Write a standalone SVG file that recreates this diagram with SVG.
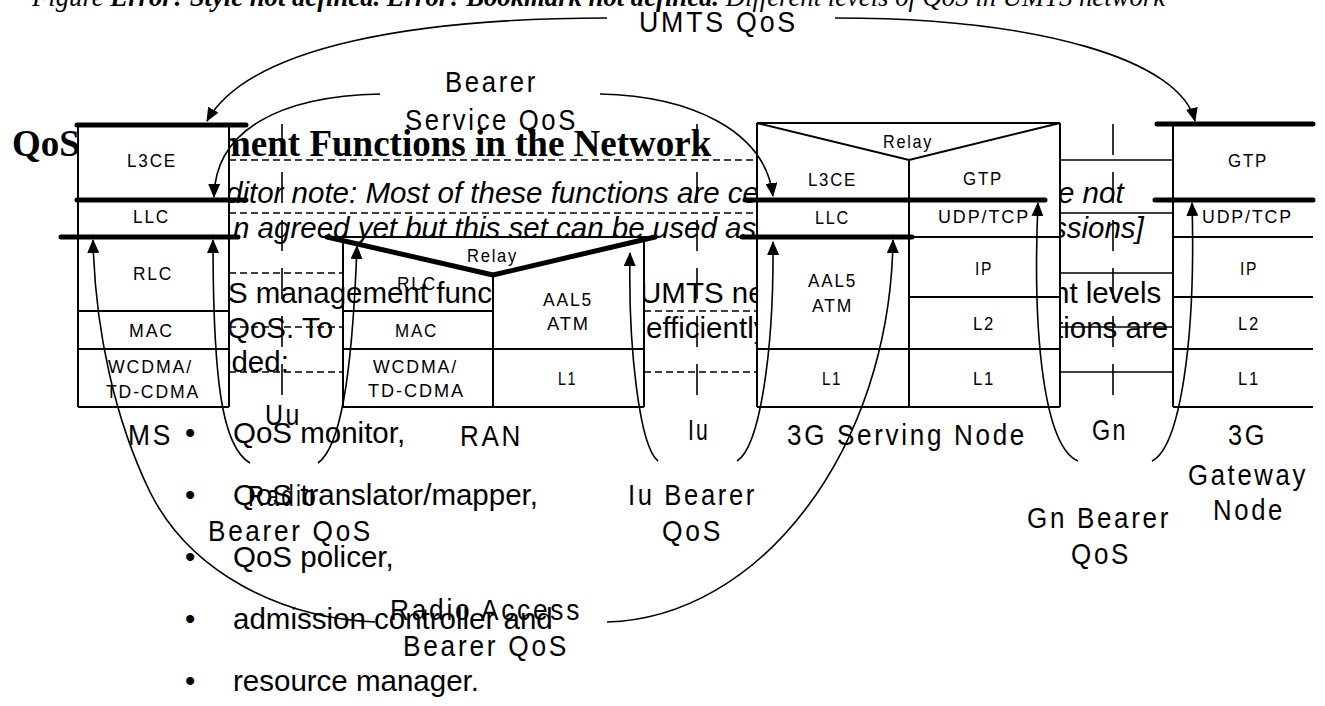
<svg xmlns="http://www.w3.org/2000/svg" width="1325" height="706" viewBox="0 0 1325 706">
<defs>
<style>
.doc{font-family:"Liberation Sans",Arial,sans-serif;font-size:29.5px;fill:#000}
.it{font-style:italic}
.ttl{font-family:"Liberation Serif","Times New Roman",serif;font-weight:bold;font-size:37px;fill:#000}
.cap{font-family:"Liberation Serif","Times New Roman",serif;font-style:italic;font-size:26.7px;fill:#000}
.big{font-family:"Liberation Sans",Arial,sans-serif;font-size:29px;letter-spacing:3px;fill:#000}
.sm{font-family:"Liberation Sans",Arial,sans-serif;font-size:19px;letter-spacing:2px;fill:#000}
.cell{fill:#fff;stroke:none}
.ln{stroke:#000;stroke-width:2;fill:none}
.thick{stroke:#000;stroke-width:5;stroke-linecap:round;stroke-linejoin:round;fill:none}
.dash{stroke:#000;stroke-width:1.5;stroke-dasharray:7 4;fill:none}
.tick{stroke:#000;stroke-width:1.6;stroke-dasharray:31 17;fill:none}
.gn{stroke:#000;stroke-width:1.5;fill:none}
.cv{stroke:#000;stroke-width:1.6;fill:none;marker-end:url(#ah)}
</style>
<marker id="ah" viewBox="0 0 14 12" refX="13" refY="6" markerWidth="14" markerHeight="12" markerUnits="userSpaceOnUse" orient="auto"><path d="M0,0 L14,6 L0,12 z" fill="#000"/></marker>
</defs>
<rect x="0" y="0" width="1325" height="706" fill="#fff"/>

<g id="page-text">
<text class="cap" x="32" y="6">Figure <tspan font-weight="bold">Error! Style not defined. Error! Bookmark not defined.</tspan> Different levels of QoS in UMTS network</text>
<text class="ttl" x="12" y="156">QoS</text>
<text class="ttl" x="220" y="156">ment Functions in the Network</text>
<text class="doc it" x="226" y="203">ditor note: Most of these functions are ce</text>
<text class="doc it" x="1058" y="203">e not</text>
<text class="doc it" x="233" y="238">n agreed yet but this set can be used as</text>
<text class="doc it" x="1052" y="238">ssions]</text>
<text class="doc" x="228" y="303">S management funct</text>
<text class="doc" x="640" y="303">UMTS ne</text>
<text class="doc" x="1053" y="303">nt levels</text>
<text class="doc" x="227" y="338">QoS. To b</text>
<text class="doc" x="646" y="338">efficiently</text>
<text class="doc" x="1055" y="338">tions are</text>
<text class="doc" x="215" y="372">eded:</text>
<text class="doc" x="185" y="443">•</text><text class="doc" x="233" y="443">QoS monitor,</text>
<text class="doc" x="185" y="505">•</text><text class="doc" x="233" y="505">QoS translator/mapper,</text>
<text class="doc" x="185" y="567">•</text><text class="doc" x="233" y="567">QoS policer,</text>
<text class="doc" x="185" y="629">•</text><text class="doc" x="233" y="629">admission controller and</text>
<text class="doc" x="185" y="691">•</text><text class="doc" x="233" y="691">resource manager.</text>
</g>

<g id="node-ms">
<rect class="cell" x="78" y="125" width="151" height="282"/>
<path class="ln" d="M78,125 V407 M229,125 V407 M78,311 H229 M78,349 H229 M78,407 H229"/>
<path class="thick" d="M77,125 H246 M77,200 H246 M61,237 H238"/>
<text class="sm" x="127" y="167" textLength="50" lengthAdjust="spacingAndGlyphs">L3CE</text>
<text class="sm" x="133" y="223" textLength="37" lengthAdjust="spacingAndGlyphs">LLC</text>
<text class="sm" x="133" y="280" textLength="40" lengthAdjust="spacingAndGlyphs">RLC</text>
<text class="sm" x="129" y="337" textLength="45" lengthAdjust="spacingAndGlyphs">MAC</text>
<text class="sm" x="108" y="373" textLength="85" lengthAdjust="spacingAndGlyphs">WCDMA/</text>
<text class="sm" x="106" y="398" textLength="94" lengthAdjust="spacingAndGlyphs">TD-CDMA</text>
<text class="big" x="128" y="445" textLength="45" lengthAdjust="spacingAndGlyphs">MS</text>
</g>

<g id="node-ran">
<polygon class="cell" points="343,311 493,311 493,275 644,239 644,407 343,407"/>
<path class="ln" d="M327,237 H650 M343,241 V407 M493,275 V407 M644,237 V407 M343,311 H493 M343,349 H644 M343,407 H644"/>
<path class="thick" d="M327,237 L493,275 L655,237"/>
<text class="sm" x="467" y="262" textLength="51" lengthAdjust="spacingAndGlyphs">Relay</text>
<text class="sm" x="397" y="290" textLength="40" lengthAdjust="spacingAndGlyphs">RLC</text>
<text class="sm" x="395" y="337" textLength="43" lengthAdjust="spacingAndGlyphs">MAC</text>
<text class="sm" x="373" y="373" textLength="85" lengthAdjust="spacingAndGlyphs">WCDMA/</text>
<text class="sm" x="368" y="397" textLength="97" lengthAdjust="spacingAndGlyphs">TD-CDMA</text>
<text class="sm" x="543" y="306" textLength="50" lengthAdjust="spacingAndGlyphs">AAL5</text>
<text class="sm" x="547" y="330" textLength="43" lengthAdjust="spacingAndGlyphs">ATM</text>
<text class="sm" x="558" y="385" textLength="19" lengthAdjust="spacingAndGlyphs">L1</text>
<text class="big" x="460" y="446" textLength="63" lengthAdjust="spacingAndGlyphs">RAN</text>
</g>

<g id="node-sgsn">
<rect class="cell" x="757" y="123" width="303" height="284"/>
<path class="ln" d="M757,123 H1060 M757,123 V407 M1060,123 V407 M757,123 L909,160 L1060,123 M909,160 V407 M909,237 H1060 M909,297 H1060 M757,349 H1060 M757,407 H1060"/>
<path class="thick" d="M745,200 H1045 M742,237 H912"/>
<text class="sm" x="883" y="148" textLength="50" lengthAdjust="spacingAndGlyphs">Relay</text>
<text class="sm" x="808" y="186" textLength="49" lengthAdjust="spacingAndGlyphs">L3CE</text>
<text class="sm" x="815" y="224" textLength="35" lengthAdjust="spacingAndGlyphs">LLC</text>
<text class="sm" x="808" y="287" textLength="49" lengthAdjust="spacingAndGlyphs">AAL5</text>
<text class="sm" x="812" y="312" textLength="41" lengthAdjust="spacingAndGlyphs">ATM</text>
<text class="sm" x="822" y="385" textLength="20" lengthAdjust="spacingAndGlyphs">L1</text>
<text class="sm" x="963" y="185" textLength="40" lengthAdjust="spacingAndGlyphs">GTP</text>
<text class="sm" x="938" y="223" textLength="92" lengthAdjust="spacingAndGlyphs">UDP/TCP</text>
<text class="sm" x="975" y="275" textLength="18" lengthAdjust="spacingAndGlyphs">IP</text>
<text class="sm" x="973" y="330" textLength="22" lengthAdjust="spacingAndGlyphs">L2</text>
<text class="sm" x="973" y="385" textLength="22" lengthAdjust="spacingAndGlyphs">L1</text>
<text class="big" x="787" y="445" textLength="240" lengthAdjust="spacingAndGlyphs">3G Serving Node</text>
</g>

<g id="node-ggsn">
<rect class="cell" x="1173" y="124" width="140" height="283"/>
<path class="ln" d="M1173,124 V407 M1173,237 H1313 M1173,297 H1313 M1173,349 H1313 M1173,407 H1313"/>
<path class="thick" d="M1157,124 H1313 M1155,200 H1313"/>
<text class="sm" x="1228" y="167" textLength="40" lengthAdjust="spacingAndGlyphs">GTP</text>
<text class="sm" x="1202" y="223" textLength="91" lengthAdjust="spacingAndGlyphs">UDP/TCP</text>
<text class="sm" x="1240" y="275" textLength="18" lengthAdjust="spacingAndGlyphs">IP</text>
<text class="sm" x="1238" y="330" textLength="22" lengthAdjust="spacingAndGlyphs">L2</text>
<text class="sm" x="1238" y="385" textLength="22" lengthAdjust="spacingAndGlyphs">L1</text>
<text class="big" x="1228" y="445" textLength="39" lengthAdjust="spacingAndGlyphs">3G</text>
<text class="big" x="1188" y="485" textLength="120" lengthAdjust="spacingAndGlyphs">Gateway</text>
<text class="big" x="1213" y="520" textLength="72" lengthAdjust="spacingAndGlyphs">Node</text>
</g>

<g id="connectors">
<path class="dash" d="M229,160 H757 M229,213 H757 M229,273 H343 M229,327 H343 M229,372 H343 M644,311 H757 M644,372 H757"/>
<path class="gn" d="M1060,160 H1173 M1060,213 H1173 M1060,273 H1173 M1060,327 H1173 M1060,372 H1173"/>
<path class="tick" d="M282,124 V395 M697,124 V395 M1113,124 V395"/>
<path class="cv" d="M607,18 C420,18 250,45 207,121"/>
<path class="cv" d="M835,18 C1040,18 1180,60 1195,121"/>
<path class="cv" d="M380,94 C280,96 215,130 214,197"/>
<path class="cv" d="M600,94 C690,96 765,130 773,196"/>
<path class="cv" d="M250,463 C222,447 213,380 213,240"/>
<path class="cv" d="M318,463 C340,447 352,380 357,246"/>
<path class="cv" d="M658,461 C640,447 628,350 630,253"/>
<path class="cv" d="M737,461 C760,447 774,350 773,242"/>
<path class="cv" d="M1078,461 C1045,447 1032,340 1038,203"/>
<path class="cv" d="M1152,461 C1180,447 1196,340 1192,203"/>
<path class="cv" d="M375,622 C280,618 190,572 150,492 C115,420 95,330 93,240"/>
<path class="cv" d="M607,622 C760,618 890,450 893,240"/>
<text class="big" x="639" y="32" textLength="159" lengthAdjust="spacingAndGlyphs">UMTS QoS</text>
<text class="big" x="445" y="92" textLength="93" lengthAdjust="spacingAndGlyphs">Bearer</text>
<text class="big" x="405" y="130" textLength="173" lengthAdjust="spacingAndGlyphs">Service QoS</text>
<text class="big" x="265" y="425" textLength="37" lengthAdjust="spacingAndGlyphs">Uu</text>
<text class="big" x="688" y="440" textLength="22" lengthAdjust="spacingAndGlyphs">Iu</text>
<text class="big" x="1092" y="440" textLength="36" lengthAdjust="spacingAndGlyphs">Gn</text>
<text class="big" x="248" y="506" textLength="70" lengthAdjust="spacingAndGlyphs">Radio</text>
<text class="big" x="208" y="541" textLength="165" lengthAdjust="spacingAndGlyphs">Bearer QoS</text>
<text class="big" x="628" y="505" textLength="129" lengthAdjust="spacingAndGlyphs">Iu Bearer</text>
<text class="big" x="662" y="541" textLength="61" lengthAdjust="spacingAndGlyphs">QoS</text>
<text class="big" x="1027" y="528" textLength="144" lengthAdjust="spacingAndGlyphs">Gn Bearer</text>
<text class="big" x="1071" y="564" textLength="60" lengthAdjust="spacingAndGlyphs">QoS</text>
<text class="big" x="390" y="620" textLength="192" lengthAdjust="spacingAndGlyphs">Radio Access</text>
<text class="big" x="403" y="656" textLength="166" lengthAdjust="spacingAndGlyphs">Bearer QoS</text>
</g>
</svg>
